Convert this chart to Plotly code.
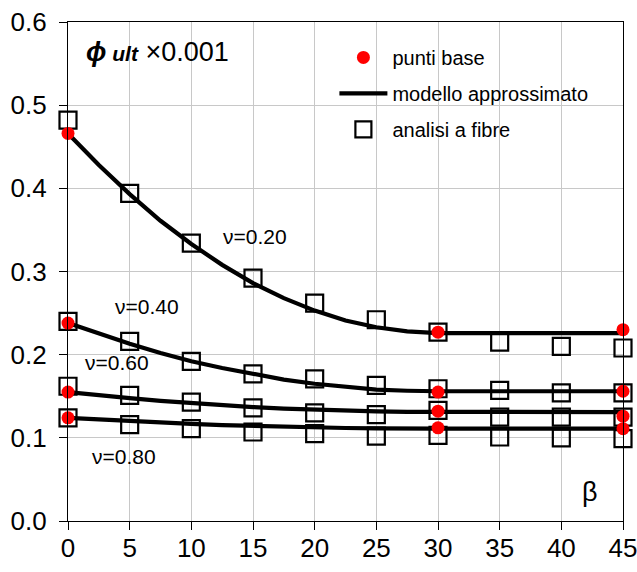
import plotly.graph_objects as go

# ---------------- data ----------------
beta_fibre = [0, 5, 10, 15, 20, 25, 30, 35, 40, 45]
fibre_020 = [0.482, 0.394, 0.334, 0.292, 0.262, 0.242, 0.227, 0.215, 0.210, 0.208]
fibre_040 = [0.240, 0.216, 0.192, 0.177, 0.171, 0.163, 0.159, 0.157, 0.154, 0.154]
fibre_060 = [0.162, 0.151, 0.143, 0.136, 0.130, 0.128, 0.133, 0.125, 0.125, 0.125]
fibre_080 = [0.124, 0.116, 0.111, 0.107, 0.105, 0.102, 0.103, 0.101, 0.100, 0.099]

beta_model = [0, 2.5, 5, 7.5, 10, 12.5, 15, 17.5, 20, 22.5, 25, 27.5, 30, 45]
model_020 = [0.466, 0.428, 0.393, 0.361, 0.333, 0.308, 0.286, 0.268, 0.253, 0.241, 0.233, 0.228, 0.226, 0.226]
model_040 = [0.238, 0.225, 0.213, 0.202, 0.192, 0.184, 0.1765, 0.170, 0.165, 0.161, 0.158, 0.1566, 0.156, 0.156]
model_060 = [0.155, 0.151, 0.1477, 0.1445, 0.1417, 0.1392, 0.137, 0.1352, 0.1337, 0.1325, 0.1317, 0.1312, 0.131, 0.131]
model_080 = [0.124, 0.1219, 0.120, 0.1183, 0.1168, 0.1154, 0.1143, 0.1133, 0.1124, 0.1118, 0.1114, 0.1111, 0.111, 0.111]

beta_base = [0, 30, 45]
base_020 = [0.466, 0.227, 0.230]
base_040 = [0.238, 0.155, 0.156]
base_060 = [0.155, 0.132, 0.126]
base_080 = [0.124, 0.112, 0.111]

curve_labels = ["ν=0.20", "ν=0.40", "ν=0.60", "ν=0.80"]
label_x = [15.2, 6.4, 4.0, 4.5]
label_y = [0.342, 0.258, 0.190, 0.078]

x_ticks = [0, 5, 10, 15, 20, 25, 30, 35, 40, 45]
y_ticks = [0.0, 0.1, 0.2, 0.3, 0.4, 0.5, 0.6]

FONT = "Arial, Liberation Sans, sans-serif"


def join(xs, series):
    X, Y = [], []
    for s in series:
        X += list(xs) + [None]
        Y += list(s) + [None]
    return X, Y


fig = go.Figure()

fx, fy = join(beta_fibre, [fibre_020, fibre_040, fibre_060, fibre_080])
fig.add_trace(go.Scatter(
    x=fx, y=fy, mode="markers", name="analisi a fibre",
    marker=dict(symbol="square-open", size=17, color="black", line=dict(width=2.2, color="black")),
    cliponaxis=False, legendrank=3, legendgroup="c"))

mx, my = join(beta_model, [model_020, model_040, model_060, model_080])
fig.add_trace(go.Scatter(
    x=mx, y=my, mode="lines", name="modello approssimato",
    line=dict(color="black", width=4.2), connectgaps=False,
    legendrank=2, legendgroup="b"))

bx, by = join(beta_base, [base_020, base_040, base_060, base_080])
fig.add_trace(go.Scatter(
    x=bx, y=by, mode="markers", name="punti base",
    marker=dict(symbol="circle", size=13, color="#ff0000"),
    cliponaxis=False, legendrank=1, legendgroup="a"))

for t, xx, yy in zip(curve_labels, label_x, label_y):
    fig.add_annotation(x=xx, y=yy, text=t, showarrow=False,
                       font=dict(family=FONT, size=21, color="black"))

fig.add_annotation(x=1.27, y=0.564, xanchor="left", yanchor="middle", showarrow=False,
                   text="<b><i><span style='font-size:27px'>ϕ</span></i></b>"
                        "<b><i><span style='font-size:21px'> ult</span></i></b>"
                        " ×0.001",
                   font=dict(family=FONT, size=27, color="black"))

fig.add_annotation(x=42.3, y=0.035, text="β", showarrow=False,
                   font=dict(family=FONT, size=27, color="black"))

axis_common = dict(ticks="outside", ticklen=8, tickcolor="black", tickwidth=1,
                   showline=True, linecolor="black", linewidth=1.2, mirror=True,
                   showgrid=True, gridcolor="#c8c8c8", gridwidth=1, zeroline=False,
                   tickfont=dict(size=26), automargin=False, ticklabeloverflow="allow")

fig.update_layout(
    width=637, height=572,
    margin=dict(l=68, r=14, t=22, b=51),
    paper_bgcolor="white", plot_bgcolor="white",
    font=dict(family=FONT, color="black"),
    showlegend=True,
    legend=dict(x=0.48, y=0.968, xanchor="left", yanchor="top",
                bgcolor="rgba(0,0,0,0)", font=dict(size=20),
                traceorder="grouped", tracegroupgap=7, itemwidth=48),
    xaxis=dict(range=[0, 45], tickvals=x_ticks, ticklabelstandoff=-4, **axis_common),
    yaxis=dict(range=[0, 0.6], tickvals=y_ticks, tickformat=".1f", ticklabelstandoff=7, **axis_common),
    xaxis2=dict(range=[0, 45], tickvals=x_ticks, overlaying="x", anchor="y2", side="bottom",
                ticks="inside", ticklen=8, tickcolor="black", showticklabels=False,
                showgrid=False, showline=False, zeroline=False, automargin=False),
    yaxis2=dict(range=[0, 0.6], tickvals=y_ticks, overlaying="y", anchor="x2", side="left",
                ticks="inside", ticklen=8, tickcolor="black", showticklabels=False,
                showgrid=False, showline=False, zeroline=False, automargin=False),
)

fig.write_html("out.html", config={"displayModeBar": False},
               post_script="document.body.style.margin='0';document.body.style.padding='0';")
